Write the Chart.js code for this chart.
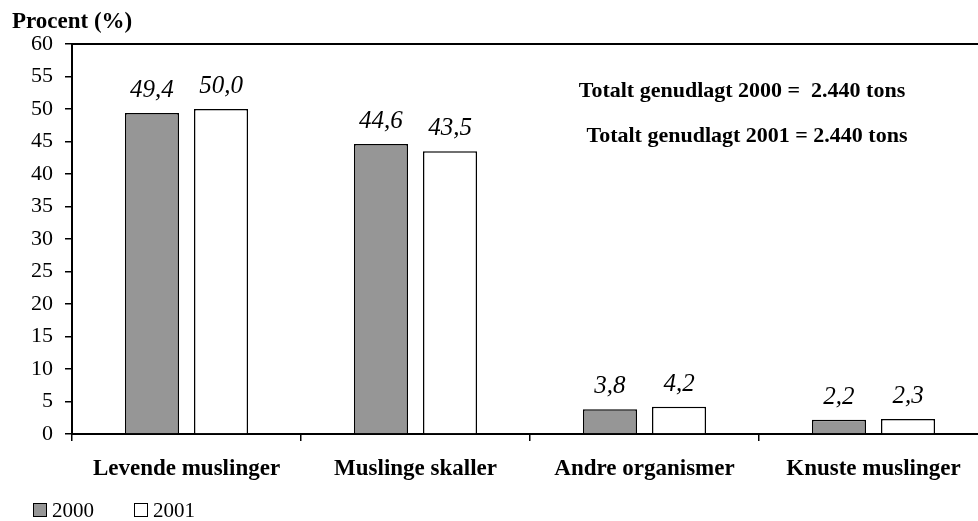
<!DOCTYPE html>
<html>
<head>
<meta charset="utf-8">
<script src="https://cdn.jsdelivr.net/npm/chart.js@4.4.0/dist/chart.umd.min.js"></script>
<style>
  body { margin: 0; overflow: hidden; background: #fff; }
  #wrap { position: relative; width: 1000px; height: 521px; }
  .legend { position: absolute; top: 498px; font: 21px 'Liberation Serif', 'Times New Roman', serif; color: #000; }
  .legend span.box { display: inline-block; width: 12px; height: 12px; border: 1.5px solid #000; margin-right: 5px; vertical-align: 0px; }
</style>
</head>
<body>
<div id="wrap">
  <canvas id="chart-bar" width="1000" height="521"></canvas>
  <div class="legend" style="left:33px"><span class="box" style="background:#969696"></span>2000</div>
  <div class="legend" style="left:134px"><span class="box" style="background:#fff"></span>2001</div>
</div>
<script>
const categories = ['Levende muslinger', 'Muslinge skaller', 'Andre organismer', 'Knuste muslinger'];
const values2000 = [49.4, 44.6, 3.8, 2.2];
const values2001 = [50.0, 43.5, 4.2, 2.3];
const yTicks = [0, 5, 10, 15, 20, 25, 30, 35, 40, 45, 50, 55, 60];
const totalsText = ['Totalt genudlagt 2000 =  2.440 tons', 'Totalt genudlagt 2001 = 2.440 tons'];

const serif = "'Liberation Serif', 'Times New Roman', serif";

// value labels, axis title, top border and the totals note
const extras = {
  id: 'extras',
  afterDatasetsDraw(chart) {
    const { ctx, chartArea } = chart;
    ctx.save();
    ctx.fillStyle = '#000';
    ctx.textAlign = 'center';
    ctx.textBaseline = 'bottom';
    ctx.font = 'italic 25px ' + serif;
    chart.data.datasets.forEach((ds, i) => {
      chart.getDatasetMeta(i).data.forEach((bar, j) => {
        ctx.fillText(ds.data[j].toFixed(1).replace('.', ','), bar.x, bar.y - 10);
      });
    });
    // top border
    ctx.strokeStyle = '#000';
    ctx.lineWidth = 2;
    ctx.beginPath();
    ctx.moveTo(chartArea.left, chartArea.top);
    ctx.lineTo(chartArea.right, chartArea.top);
    ctx.stroke();
    // axis title
    ctx.textAlign = 'left';
    ctx.textBaseline = 'middle';
    ctx.font = 'bold 23px ' + serif;
    ctx.fillText('Procent (%)', 12, 22);
    // totals
    ctx.textAlign = 'center';
    ctx.font = 'bold 22px ' + serif;
    ctx.fillText(totalsText[0], 742, 91);
    ctx.fillText(totalsText[1], 747, 136);
    ctx.restore();
  },
};

new Chart(document.getElementById('chart-bar').getContext('2d'), {
  type: 'bar',
  data: {
    labels: categories,
    datasets: [
      { label: '2000', data: values2000, backgroundColor: '#969696', borderColor: '#000', borderWidth: 1.5 },
      { label: '2001', data: values2001, backgroundColor: '#fff', borderColor: '#000', borderWidth: 1.5 },
    ],
  },
  options: {
    responsive: false,
    animation: false,
    categoryPercentage: 0.603,
    barPercentage: 0.783,
    layout: { padding: { top: 44, left: 0, right: 12, bottom: 0 } },
    plugins: { legend: { display: false }, tooltip: { enabled: false } },
    scales: {
      x: {
        grid: { offset: true, drawOnChartArea: false, drawTicks: true, tickLength: 7, color: '#000', lineWidth: 1.5 },
        border: { color: '#000', width: 2 },
        ticks: { color: '#000', font: { family: serif, size: 23, weight: 'bold' }, padding: 14, maxRotation: 0 },
        afterFit(scale) { scale.height = 87; },
      },
      y: {
        min: 0,
        max: 60,
        afterBuildTicks(scale) { scale.ticks = yTicks.map((v) => ({ value: v })); },
        grid: { drawOnChartArea: false, tickLength: 7, color: '#000', lineWidth: 1.5 },
        border: { color: '#000', width: 2 },
        ticks: { color: '#000', font: { family: serif, size: 22 }, padding: 12 },
        afterFit(scale) { scale.width = 72; },
      },
    },
  },
  plugins: [extras],
});
</script>
</body>
</html>
